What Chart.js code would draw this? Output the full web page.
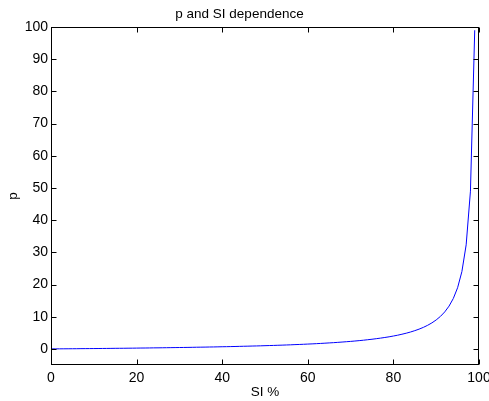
<!DOCTYPE html>
<html>
<head>
<meta charset="utf-8">
<script src="https://cdn.jsdelivr.net/npm/chart.js@4/dist/chart.umd.min.js"></script>
<style>
  html, body { margin: 0; padding: 0; background: #fff; }
  #wrap { width: 489px; height: 401px; }
</style>
</head>
<body>
<div id="wrap"><canvas id="grafico"></canvas></div>
<script>
// SI en %, y el valor de p para cada punto
const siValores = [
  0, 1, 2, 3, 4, 5, 6, 7, 8, 9,
  10, 11, 12, 13, 14, 15, 16, 17, 18, 19,
  20, 21, 22, 23, 24, 25, 26, 27, 28, 29,
  30, 31, 32, 33, 34, 35, 36, 37, 38, 39,
  40, 41, 42, 43, 44, 45, 46, 47, 48, 49,
  50, 51, 52, 53, 54, 55, 56, 57, 58, 59,
  60, 61, 62, 63, 64, 65, 66, 67, 68, 69,
  70, 71, 72, 73, 74, 75, 76, 77, 78, 79,
  80, 81, 82, 83, 84, 85, 86, 87, 88, 89,
  90, 91, 92, 93, 94, 95, 96, 97, 98, 99
];
const pValores = [
  0.00, 0.01, 0.02, 0.03, 0.04, 0.05, 0.06, 0.08, 0.09, 0.10,
  0.11, 0.12, 0.14, 0.15, 0.16, 0.18, 0.19, 0.20, 0.22, 0.23,
  0.25, 0.27, 0.28, 0.30, 0.32, 0.33, 0.35, 0.37, 0.39, 0.41,
  0.43, 0.45, 0.47, 0.49, 0.52, 0.54, 0.56, 0.59, 0.61, 0.64,
  0.67, 0.69, 0.72, 0.75, 0.79, 0.82, 0.85, 0.89, 0.92, 0.96,
  1.00, 1.04, 1.08, 1.13, 1.17, 1.22, 1.27, 1.33, 1.38, 1.44,
  1.50, 1.56, 1.63, 1.70, 1.78, 1.86, 1.94, 2.03, 2.13, 2.23,
  2.33, 2.45, 2.57, 2.70, 2.85, 3.00, 3.17, 3.35, 3.55, 3.76,
  4.00, 4.26, 4.56, 4.88, 5.25, 5.67, 6.14, 6.69, 7.33, 8.09,
  9.00, 10.11, 11.50, 13.29, 15.67, 19.00, 24.00, 32.33, 49.00, 99.00
];
const ticksX = [0, 20, 40, 60, 80, 100];
const ticksY = [0, 10, 20, 30, 40, 50, 60, 70, 80, 90, 100];

const fuente = 'Arial, "Liberation Sans", sans-serif';

// Caja y marcas hacia adentro, estilo MATLAB
const cajaEjes = {
  id: 'cajaEjes',
  afterDraw(chart) {
    const ctx = chart.ctx;
    const a = chart.chartArea;
    const sx = chart.scales.x, sy = chart.scales.y;
    const largo = 5;
    ctx.save();
    ctx.strokeStyle = '#000';
    ctx.lineWidth = 1;
    const l = Math.round(a.left) + 0.5, r = Math.round(a.right) - 0.5;
    const t = Math.round(a.top) + 0.5, b = Math.round(a.bottom) - 0.5;
    ctx.strokeRect(l, t, r - l, b - t);
    ctx.beginPath();
    ticksX.forEach(v => {
      const x = Math.round(sx.getPixelForValue(v)) + 0.5;
      ctx.moveTo(x, b); ctx.lineTo(x, b - largo);
      ctx.moveTo(x, t); ctx.lineTo(x, t + largo);
    });
    ticksY.forEach(v => {
      const y = Math.round(sy.getPixelForValue(v)) + 0.5;
      ctx.moveTo(l, y); ctx.lineTo(l + largo, y);
      ctx.moveTo(r, y); ctx.lineTo(r - largo, y);
    });
    ctx.stroke();
    ctx.restore();
  }
};

const ctx = document.getElementById('grafico').getContext('2d');
new Chart(ctx, {
  type: 'line',
  data: {
    datasets: [{
      label: 'p',
      data: siValores.map((x, i) => ({ x: x, y: pValores[i] })),
      borderColor: 'rgb(0, 0, 255)',
      borderWidth: 1,
      pointRadius: 0,
      tension: 0,
      fill: false
    }]
  },
  options: {
    responsive: true,
    maintainAspectRatio: false,
    animation: false,
    layout: { padding: { left: 0, right: 10, top: 0, bottom: 0 } },
    plugins: {
      legend: { display: false },
      tooltip: { enabled: false },
      title: {
        display: true,
        text: 'p and SI dependence',
        color: '#000',
        font: { family: fuente, size: 13.5, weight: 'normal' },
        padding: { top: 6, bottom: 4.8 }
      }
    },
    scales: {
      x: {
        type: 'linear',
        min: 0,
        max: 100,
        afterBuildTicks: s => { s.ticks = ticksX.map(v => ({ value: v })); },
        afterFit: s => { s.height = 36; s.paddingLeft = 0; s.paddingRight = 0; },
        grid: { display: false, drawTicks: false },
        border: { display: false },
        ticks: { color: '#000', padding: 5, maxRotation: 0, font: { family: fuente, size: 14 } },
        title: {
          display: true,
          text: 'SI %',
          color: '#000',
          font: { family: fuente, size: 13.5 },
          padding: { top: 0, bottom: 1 }
        }
      },
      y: {
        type: 'linear',
        min: -5,
        max: 100,
        afterBuildTicks: s => { s.ticks = ticksY.map(v => ({ value: v })); },
        afterFit: s => { s.width = 51; s.paddingTop = 0; s.paddingBottom = 0; },
        grid: { display: false, drawTicks: false },
        border: { display: false },
        ticks: { color: '#000', padding: 3, font: { family: fuente, size: 14 } },
        title: {
          display: true,
          text: 'p',
          color: '#000',
          font: { family: fuente, size: 13.5 },
          padding: { top: 5, bottom: 0 }
        }
      }
    }
  },
  plugins: [cajaEjes]
});
</script>
</body>
</html>
